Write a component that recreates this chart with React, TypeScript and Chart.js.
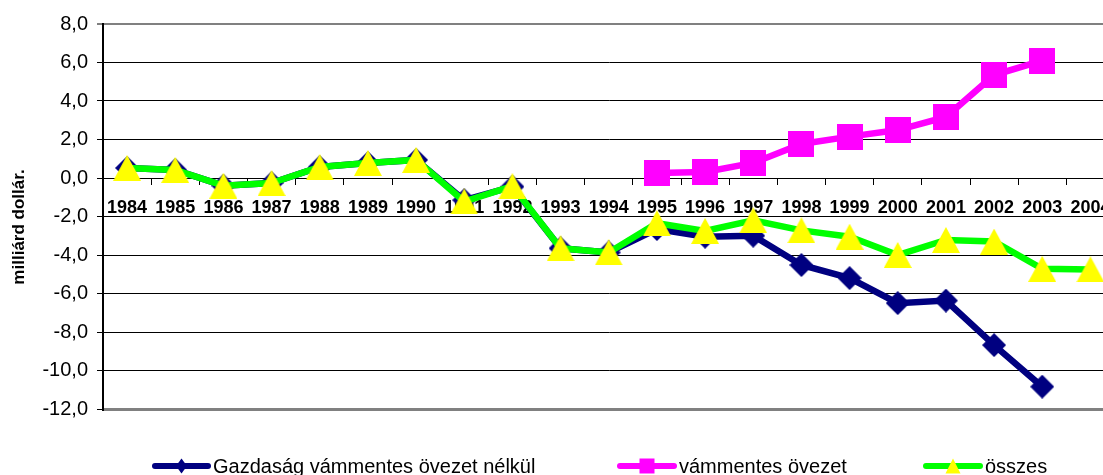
import React, { useEffect, useRef } from 'react';
import { Chart, registerables } from 'chart.js';

Chart.register(...registerables);

const years = [
  '1984', '1985', '1986', '1987', '1988', '1989', '1990', '1991', '1992', '1993', '1994',
  '1995', '1996', '1997', '1998', '1999', '2000', '2001', '2002', '2003', '2004',
];

const withoutZone: (number | null)[] = [
  0.52, 0.42, -0.4, -0.26, 0.57, 0.78, 0.94, -1.15, -0.45, -3.65, -3.87,
  -2.65, -3.05, -3.0, -4.52, -5.2, -6.5, -6.37, -8.68, -10.84, null,
];

const dutyFreeZone: (number | null)[] = [
  null, null, null, null, null, null, null, null, null, null, null,
  0.26, 0.31, 0.78, 1.77, 2.15, 2.49, 3.17, 5.35, 6.1, null,
];

const total: (number | null)[] = [
  0.52, 0.42, -0.4, -0.26, 0.57, 0.78, 0.94, -1.22, -0.42, -3.65, -3.87,
  -2.35, -2.75, -2.2, -2.72, -3.05, -4.0, -3.22, -3.3, -4.72, -4.75,
];

const seriesNames = ['Gazdaság vámmentes övezet nélkül', 'vámmentes övezet', 'összes'];
const yAxisTitle = 'milliárd dollár.';
const yMin = -12;
const yMax = 8;
const yStep = 2;

const NAVY = '#000080';
const MAGENTA = '#FF00FF';
const GREEN = '#00FF00';
const YELLOW = '#FFFF00';
const FONT = '"Liberation Sans", Arial, sans-serif';

type Kind = 'diamond' | 'square' | 'triangle';

function makeMarker(kind: Kind, color: string, w: number, h: number): HTMLCanvasElement {
  const c = document.createElement('canvas');
  c.width = w;
  c.height = h;
  const g = c.getContext('2d')!;
  g.fillStyle = color;
  g.beginPath();
  if (kind === 'diamond') {
    g.moveTo(w / 2, 0);
    g.lineTo(w, h / 2);
    g.lineTo(w / 2, h);
    g.lineTo(0, h / 2);
  } else if (kind === 'square') {
    g.rect(0, 0, w, h);
  } else {
    g.moveTo(w / 2, 0);
    g.lineTo(w, h);
    g.lineTo(0, h);
  }
  g.closePath();
  g.fill();
  return c;
}

function drawShape(ctx: CanvasRenderingContext2D, kind: Kind, color: string, cx: number, cy: number, w: number, h: number) {
  ctx.fillStyle = color;
  ctx.beginPath();
  if (kind === 'diamond') {
    ctx.moveTo(cx, cy - h / 2);
    ctx.lineTo(cx + w / 2, cy);
    ctx.lineTo(cx, cy + h / 2);
    ctx.lineTo(cx - w / 2, cy);
  } else if (kind === 'square') {
    ctx.rect(cx - w / 2, cy - h / 2, w, h);
  } else {
    ctx.moveTo(cx, cy - h / 2);
    ctx.lineTo(cx + w / 2, cy + h / 2);
    ctx.lineTo(cx - w / 2, cy + h / 2);
  }
  ctx.closePath();
  ctx.fill();
}

const legendPlugin = {
  id: 'customLegend',
  afterDraw(chart: any) {
    const ctx: CanvasRenderingContext2D = chart.ctx;
    const items: { x1: number; x2: number; color: string; kind: Kind; mc: string; mw: number; mh: number; text: string }[] = [
      { x1: 155, x2: 208, color: NAVY, kind: 'diamond', mc: NAVY, mw: 11, mh: 15, text: seriesNames[0] },
      { x1: 620, x2: 674, color: MAGENTA, kind: 'square', mc: MAGENTA, mw: 15, mh: 15, text: seriesNames[1] },
      { x1: 926, x2: 980, color: GREEN, kind: 'triangle', mc: YELLOW, mw: 15, mh: 15, text: seriesNames[2] },
    ];
    const y = 466;
    ctx.save();
    for (const it of items) {
      ctx.strokeStyle = it.color;
      ctx.lineWidth = 6;
      ctx.lineCap = 'round';
      ctx.beginPath();
      ctx.moveTo(it.x1, y);
      ctx.lineTo(it.x2, y);
      ctx.stroke();
      drawShape(ctx, it.kind, it.mc, (it.x1 + it.x2) / 2, y, it.mw, it.mh);
      ctx.fillStyle = '#000';
      ctx.font = `20px ${FONT}`;
      ctx.textAlign = 'left';
      ctx.textBaseline = 'alphabetic';
      ctx.fillText(it.text, it.x2 + 5, 473);
    }
    ctx.restore();
  },
};

const yTitlePlugin = {
  id: 'yTitle',
  afterDraw(chart: any) {
    const ctx: CanvasRenderingContext2D = chart.ctx;
    ctx.save();
    ctx.translate(19, 227);
    ctx.rotate(-Math.PI / 2);
    ctx.fillStyle = '#000';
    ctx.font = `bold 17px ${FONT}`;
    ctx.textAlign = 'center';
    ctx.textBaseline = 'middle';
    ctx.fillText(yAxisTitle, 0, 0);
    ctx.restore();
  },
};

export default function App() {
  const ref = useRef<HTMLCanvasElement | null>(null);

  useEffect(() => {
    if (!ref.current) return;
    const diamond = makeMarker('diamond', NAVY, 24, 24);
    const square = makeMarker('square', MAGENTA, 26, 26);
    const triangle = makeMarker('triangle', YELLOW, 28, 26);

    const chart = new Chart(ref.current, {
      type: 'line',
      data: {
        labels: years,
        datasets: [
          {
            label: seriesNames[0],
            data: withoutZone,
            borderColor: NAVY,
            backgroundColor: NAVY,
            borderWidth: 6.5,
            pointStyle: diamond as any,
            pointRadius: 12,
            tension: 0,
            order: 3,
          },
          {
            label: seriesNames[1],
            data: dutyFreeZone,
            borderColor: MAGENTA,
            backgroundColor: MAGENTA,
            borderWidth: 6.5,
            pointStyle: square as any,
            pointRadius: 13,
            tension: 0,
            order: 2,
          },
          {
            label: seriesNames[2],
            data: total,
            borderColor: GREEN,
            backgroundColor: YELLOW,
            borderWidth: 6.5,
            pointStyle: triangle as any,
            pointRadius: 14,
            tension: 0,
            order: 1,
          },
        ],
      },
      options: {
        animation: false,
        responsive: false,
        maintainAspectRatio: false,
        devicePixelRatio: 1,
        layout: { padding: { top: 24, right: 5, bottom: 66, left: 0 } },
        plugins: {
          legend: { display: false },
          tooltip: { enabled: false },
          title: { display: false },
        },
        scales: {
          x: {
            type: 'category',
            position: { y: 0 } as any,
            offset: true,
            grid: {
              display: true,
              offset: true,
              drawOnChartArea: false,
              drawTicks: true,
              tickLength: 6,
              color: '#000',
              lineWidth: 1,
            },
            border: { display: true, color: '#000', width: 1 },
            ticks: {
              autoSkip: false,
              maxRotation: 0,
              minRotation: 0,
              color: '#000',
              padding: 13,
              font: { family: FONT, size: 18, weight: 'bold' },
            },
          },
          y: {
            min: yMin,
            max: yMax,
            afterFit(scale: any) {
              scale.width = 103;
            },
            ticks: {
              stepSize: yStep,
              color: '#000',
              padding: 9,
              font: { family: FONT, size: 20 },
              callback: (v: any) => Number(v).toFixed(1).replace('.', ','),
            },
            grid: {
              color: (c: any) => (c.tick && (c.tick.value === yMax || c.tick.value === yMin) ? '#808080' : '#000'),
              lineWidth: (c: any) => (c.tick && c.tick.value === yMin ? 3 : c.tick && c.tick.value === yMax ? 2 : 1),
              tickLength: 6,
              tickColor: '#000',
              tickWidth: 1,
            },
            border: { display: true, color: '#000', width: 2 },
          },
        },
      },
      plugins: [legendPlugin, yTitlePlugin],
    });
    return () => chart.destroy();
  }, []);

  return (
    <div style={{ position: 'fixed', left: 0, top: 0, width: 1103, height: 475, overflow: 'hidden', background: '#fff' }}>
      <canvas ref={ref} width={1135} height={475} style={{ position: 'absolute', left: 0, top: 0, width: 1135, height: 475 }} />
    </div>
  );
}
